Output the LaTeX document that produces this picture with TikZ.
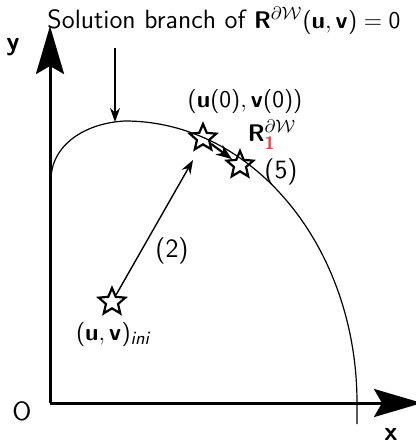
\documentclass[tikz,border=0pt]{standalone}
\usepackage{amsmath,amssymb}
\usepackage{tikz}
\usetikzlibrary{arrows.meta,shapes.geometric}
\definecolor{cred}{RGB}{232,72,72}
% sans serif math, as on a slide
\SetSymbolFont{operators}{normal}{OT1}{cmss}{m}{n}
\SetMathAlphabet{\mathbf}{normal}{OT1}{cmss}{bx}{n}
\SetMathAlphabet{\mathit}{normal}{OT1}{cmss}{m}{sl}

\begin{document}
\begin{tikzpicture}[x=0.5pt, y=-0.5pt, font=\fontsize{13.2}{16}\selectfont\sffamily,
  spt/.style={star, star points=5, star point ratio=2.2, draw,
    line width=1.1pt, minimum size=14pt, inner sep=0pt},
  lbl/.style={inner sep=1pt},
  axis/.style={line width=1.5pt, -{Stealth[length=24pt, width=14pt, inset=4pt]}},
  thinarr/.style={line width=0.7pt, -{Stealth[length=7pt, width=5pt]}}]
\useasboundingbox (0,0) rectangle (416,444);
\coordinate (O) at (50,403);
\coordinate (ytop) at (50,26);
\coordinate (xend) at (422,403);
\draw[axis] (O) -- (ytop);
\draw[axis] (O) -- (xend);
\node[lbl] (ylab) at (13,47) {\textbf{y}};
\node[lbl] (olab) at (22,411) {O};
\node[lbl] (xlab) at (391,434) {\textbf{x}};
% solution branch
\draw[line width=0.6pt] (51,180) .. controls (51,145) and (85,123) .. (125,121)
  .. controls (253,121) and (357,247) .. (357,403) -- (357,424);
\node[lbl] (title) at (224,21)
  {Solution branch of $\mathbf{R}^{\partial\mathcal{W}}(\mathbf{u},\mathbf{v}) = 0$};
\coordinate (pk0) at (115,48);
\coordinate (pk1) at (115,122);
\draw[thinarr] (pk0) -- (pk1);
% points
\node[spt] (s0) at (203,138) {};
\node[spt] (s1) at (240,165) {};
\node[spt] (ini) at (112,302) {};
\draw[line width=1.1pt, -{Stealth[length=8pt, width=6pt]}] (s0) -- (s1);
\coordinate (c2) at (193,160);
\draw[thinarr] (ini) -- (c2);
\node[lbl] (u0) at (245,101) {$(\mathbf{u}(0),\mathbf{v}(0))$};
\node[lbl] (r1) at (272,135) {$\mathbf{R}^{\partial\mathcal{W}}_{\color{cred}\mathbf{1}}$};
\node[lbl] (five) at (281,172) {(5)};
\node[lbl] (two) at (172,251) {(2)};
\node[lbl] (uvini) at (114,334) {$(\mathbf{u},\mathbf{v})_{\mathit{ini}}$};
\end{tikzpicture}
\end{document}
